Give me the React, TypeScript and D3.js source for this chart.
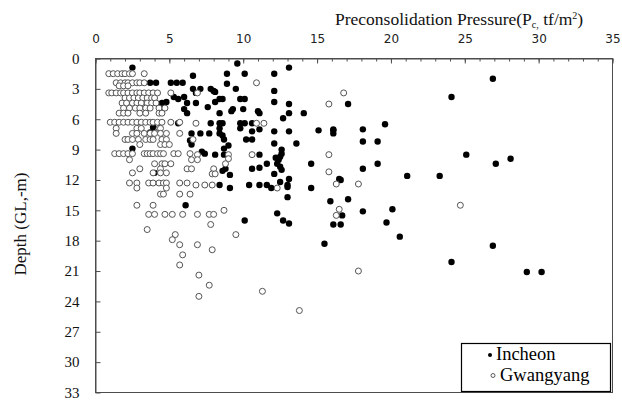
import React, { useRef, useEffect } from "react";
import * as d3 from "d3";

const xTicks = [0, 5, 10, 15, 20, 25, 30, 35];
const xMinorTicks = d3.range(0, 36, 1);
const yTicks = [0, 3, 6, 9, 12, 15, 18, 21, 24, 27, 30, 33];

// [preconsolidation pressure (tf/m2), depth (m)]
const incheon: [number, number][] = [
  [9.6, 0.5], [13.1, 0.9], [2.5, 0.9], [26.9, 2.0], [6.6, 1.7], [8.9, 1.5], [10.1, 1.5], [12.1, 1.5],
  [8.9, 2.5], [9.5, 3.0], [12.1, 3.2], [6.6, 3.0], [7.1, 3.0], [6.8, 3.4], [7.8, 3.0], [8.0, 3.2],
  [8.1, 3.3], [6.8, 4.4], [7.6, 4.8], [8.1, 4.3], [8.4, 4.0], [8.6, 4.0], [9.8, 4.0], [10.1, 4.0],
  [12.1, 4.3], [13.1, 4.5], [9.2, 5.2], [9.3, 5.0], [10.0, 5.0], [11.0, 5.2], [11.1, 5.4], [8.4, 5.4],
  [13.1, 5.4], [14.1, 5.4], [12.7, 5.9], [7.8, 6.4], [8.4, 6.4], [8.6, 6.4], [9.8, 6.4], [10.1, 6.4],
  [10.6, 6.4], [7.1, 7.4], [6.5, 7.4], [7.7, 7.4], [8.4, 6.9], [8.4, 7.4], [8.6, 7.6], [9.8, 6.9],
  [10.6, 7.2], [11.1, 7.0], [12.1, 7.2], [13.1, 7.2], [15.1, 7.1], [16.1, 7.1], [8.7, 8.0], [10.2, 8.0],
  [10.6, 8.0], [12.1, 8.4], [13.6, 8.4], [9.0, 8.6], [8.7, 8.9], [7.2, 9.2], [7.4, 9.4], [8.1, 9.5],
  [8.7, 9.5], [11.1, 9.5], [12.6, 9.0], [12.6, 9.4], [12.5, 9.7], [12.4, 10.0], [12.2, 9.8], [12.3, 10.4],
  [12.5, 10.7], [12.6, 11.0], [11.6, 10.4], [14.6, 10.4], [8.8, 10.9], [8.6, 11.1], [10.6, 10.9], [11.1, 10.8],
  [12.1, 11.4], [9.1, 11.5], [10.4, 12.5], [11.1, 12.5], [11.6, 12.5], [13.1, 11.9], [13.0, 12.5], [13.0, 12.7],
  [8.4, 12.5], [12.5, 12.2], [9.1, 12.8], [11.9, 12.8], [14.6, 12.8], [16.5, 11.9],
  [24.1, 3.8], [17.1, 4.5], [19.6, 6.5], [16.1, 7.0], [16.1, 7.4], [18.1, 7.0], [18.1, 8.2], [19.1, 8.2],
  [25.1, 9.5], [19.1, 10.4], [18.1, 10.9], [27.1, 10.4], [28.1, 9.9], [21.1, 11.6], [23.3, 11.6], [16.6, 12.0],
  [17.1, 13.9], [15.9, 14.1], [18.1, 15.1], [20.1, 14.9], [16.7, 15.5], [16.1, 16.4], [16.6, 16.4], [19.7, 16.2],
  [20.6, 17.6], [26.9, 18.5], [24.1, 20.1], [29.2, 21.1], [30.2, 21.1],
  [3.7, 2.4], [4.1, 2.4], [5.1, 2.4], [5.5, 2.4], [5.9, 2.4], [5.3, 3.8], [5.6, 4.0], [4.8, 4.3],
  [4.5, 4.4], [6.0, 3.8], [6.2, 4.4], [6.0, 5.0], [6.2, 5.4], [3.9, 6.8], [5.6, 6.4], [2.5, 8.9],
  [4.0, 11.3], [6.1, 14.5], [6.4, 8.1], [6.5, 8.5], [3.7, 7.3],
  [13.0, 13.7], [12.3, 15.3], [12.7, 16.0], [13.1, 16.3], [10.1, 16.0], [15.5, 18.3],
];

const gwangyang: [number, number][] = [
  [0.9, 1.5], [1.2, 1.5], [1.5, 1.5], [1.8, 1.5], [2.0, 1.5], [2.3, 1.5], [2.5, 1.5], [3.3, 1.5],
  [1.4, 2.4], [1.7, 2.4], [2.0, 2.4], [2.2, 2.4], [2.5, 2.4], [2.8, 2.4], [3.0, 2.4], [3.3, 2.4],
  [1.6, 2.7], [1.9, 2.7], [2.2, 2.7],
  [0.9, 3.4], [1.1, 3.4], [1.4, 3.4], [1.7, 3.4], [1.9, 3.4], [2.2, 3.4], [2.5, 3.4], [2.8, 3.4],
  [3.0, 3.4], [3.3, 3.4], [3.6, 3.4], [3.9, 3.4], [4.2, 3.4], [5.1, 3.4],
  [2.0, 3.9], [2.3, 3.9], [2.6, 3.9], [2.9, 3.9], [3.2, 3.9], [3.5, 3.9], [3.8, 3.9], [4.0, 3.9],
  [1.8, 4.4], [2.1, 4.4], [2.5, 4.4], [2.8, 4.4], [3.1, 4.4], [3.5, 4.4], [3.8, 4.4], [4.1, 4.4],
  [1.9, 4.9], [2.3, 4.9], [2.7, 4.9], [3.0, 4.9], [3.4, 4.9], [3.7, 4.9], [4.3, 4.9], [4.7, 4.9],
  [1.6, 5.4], [1.9, 5.4], [2.2, 5.4], [3.0, 5.4], [3.4, 5.4], [4.3, 5.4], [4.5, 5.4],
  [1.0, 6.3], [1.3, 6.3], [1.6, 6.3], [1.9, 6.3], [2.2, 6.3], [2.5, 6.3], [2.8, 6.3], [3.1, 6.3],
  [3.4, 6.3], [3.7, 6.3], [3.9, 6.3], [4.2, 6.3], [4.5, 6.3], [5.1, 6.3], [5.7, 6.3],
  [1.4, 6.9], [2.8, 6.9], [3.1, 6.9], [4.3, 6.9], [4.4, 6.9],
  [1.4, 7.4], [2.5, 7.4], [2.8, 7.4], [3.3, 7.4], [3.7, 7.4], [4.0, 7.4], [4.4, 7.4], [4.8, 7.4], [5.7, 7.4],
  [2.0, 8.0], [2.2, 8.0], [2.5, 8.0], [2.9, 8.0], [3.4, 8.0], [3.7, 8.0], [3.9, 8.0], [4.5, 8.0], [4.8, 8.0],
  [3.0, 8.5], [4.4, 8.5], [4.7, 8.5], [5.0, 8.5],
  [1.3, 9.4], [1.6, 9.4], [1.9, 9.4], [2.2, 9.4], [2.5, 9.4], [3.3, 9.4], [3.5, 9.4], [3.7, 9.4],
  [3.9, 9.4], [4.2, 9.4], [4.4, 9.4], [4.6, 9.4], [5.3, 9.4], [5.6, 9.4], [6.4, 9.4],
  [2.3, 10.0], [6.5, 10.0],
  [4.0, 10.4], [4.5, 10.4], [4.7, 10.4], [5.1, 10.4],
  [3.0, 10.9], [4.4, 10.9], [6.2, 10.9],
  [2.5, 11.3], [3.9, 11.3], [4.4, 11.3], [4.8, 11.3],
  [2.3, 12.3], [2.8, 12.3], [3.6, 12.3], [3.9, 12.3], [4.3, 12.3], [4.6, 12.3], [4.8, 12.3], [5.7, 12.3], [6.2, 12.3],
  [2.8, 12.8], [4.8, 12.8],
  [4.4, 13.4], [4.6, 13.4], [5.7, 13.4], [6.4, 13.4],
  [2.8, 14.5], [3.9, 14.5],
  [3.6, 15.4], [4.0, 15.4], [4.7, 15.4], [5.2, 15.4], [5.9, 15.4], [6.9, 15.4], [7.7, 15.4], [8.0, 15.4],
  [8.7, 15.0], [7.8, 16.4], [3.5, 16.9], [5.4, 17.4], [9.5, 17.4], [5.2, 17.9], [5.7, 18.4], [6.9, 18.4],
  [7.9, 18.9], [5.9, 19.4], [5.7, 20.4], [7.0, 21.4], [7.7, 22.4], [7.0, 23.5], [11.3, 23.0], [13.8, 24.9],
  [17.8, 21.0], [24.7, 14.5], [16.8, 3.4], [16.3, 12.4], [17.8, 12.4], [16.5, 14.9], [16.3, 15.5],
  [10.9, 2.4], [6.9, 3.4], [15.8, 4.5], [6.8, 6.4], [10.9, 6.4], [11.4, 6.4], [6.6, 8.0], [6.9, 9.5],
  [6.9, 10.0], [9.0, 9.5], [9.0, 9.9], [8.8, 10.4], [10.6, 9.5], [15.8, 9.5], [6.5, 10.9], [8.0, 10.9],
  [7.9, 11.4], [8.1, 11.4], [15.8, 11.2], [6.8, 12.5], [7.4, 12.5], [7.9, 12.5], [12.3, 12.8],
];

const seriesNames = ["Incheon", "Gwangyang"];

export default function App() {
  const ref = useRef<SVGSVGElement>(null);

  useEffect(() => {
    const svg = d3.select(ref.current);
    svg.selectAll("*").remove();

    const x = d3.scaleLinear().domain([0, 35]).range([95.5, 612.5]);
    const y = d3.scaleLinear().domain([0, 33]).range([58.5, 392.5]);
    const axisColor = "#4d4d4d";
    const serif = "'Liberation Serif', 'Times New Roman', serif";

    svg.append("rect")
      .attr("x", x(0)).attr("y", y(0))
      .attr("width", x(35) - x(0)).attr("height", y(33) - y(0))
      .attr("fill", "none").attr("stroke", axisColor).attr("stroke-width", 1);

    const gMinor = svg.append("g").attr("transform", `translate(0,${y(0)})`);
    gMinor.call(d3.axisTop(x).tickValues(xMinorTicks).tickSizeInner(-3).tickSizeOuter(0).tickFormat(() => ""));
    gMinor.select(".domain").remove();
    gMinor.selectAll("line").attr("stroke", axisColor);

    const gx = svg.append("g").attr("transform", `translate(0,${y(0)})`);
    gx.call(d3.axisTop(x).tickValues(xTicks).tickSizeInner(-5).tickSizeOuter(0).tickPadding(16));
    gx.select(".domain").attr("stroke", axisColor);
    gx.selectAll("line").attr("stroke", axisColor);
    gx.selectAll("text")
      .attr("font-family", "'DejaVu Sans', sans-serif")
      .attr("font-size", 12)
      .attr("fill", "#222");

    const gy = svg.append("g").attr("transform", `translate(${x(0)},0)`);
    gy.call(d3.axisLeft(y).tickValues(yTicks).tickSizeInner(-5).tickSizeOuter(0).tickPadding(16));
    gy.select(".domain").attr("stroke", axisColor);
    gy.selectAll("line").attr("stroke", axisColor);
    gy.selectAll("text")
      .attr("font-family", serif)
      .attr("font-size", 15)
      .attr("fill", "#111");

    const t = svg.append("text")
      .attr("x", 335).attr("y", 25)
      .attr("font-family", serif)
      .attr("font-size", 17.5).attr("fill", "#111");
    t.append("tspan").text("Preconsolidation Pressure(P");
    t.append("tspan").attr("font-size", 10).attr("dy", 3).text("c,");
    t.append("tspan").attr("dy", -3).text(" tf/m");
    t.append("tspan").attr("font-size", 10).attr("dy", -6).text("2");
    t.append("tspan").attr("dy", 6).text(")");

    svg.append("text")
      .attr("transform", `translate(26,${224}) rotate(-90)`)
      .attr("text-anchor", "middle")
      .attr("font-family", serif)
      .attr("font-size", 17).attr("fill", "#111")
      .text("Depth (GL,-m)");

    svg.append("g").selectAll("circle").data(incheon).join("circle")
      .attr("cx", d => x(d[0])).attr("cy", d => y(d[1])).attr("r", 3.2)
      .attr("fill", "#000");
    svg.append("g").selectAll("circle").data(gwangyang).join("circle")
      .attr("cx", d => x(d[0])).attr("cy", d => y(d[1])).attr("r", 3)
      .attr("fill", "#fff").attr("stroke", "#555").attr("stroke-width", 1);

    const lg = svg.append("g");
    lg.append("rect").attr("x", 461.5).attr("y", 343.5).attr("width", 149).attr("height", 48)
      .attr("fill", "#fff").attr("stroke", "#000").attr("stroke-width", 1.2);
    lg.append("circle").attr("cx", 490).attr("cy", 355).attr("r", 2).attr("fill", "#000");
    lg.append("circle").attr("cx", 493).attr("cy", 375.5).attr("r", 2).attr("fill", "#fff").attr("stroke", "#333").attr("stroke-width", 0.8);
    lg.append("text").attr("x", 496).attr("y", 360)
      .attr("font-family", serif).attr("font-size", 18.5).attr("fill", "#000")
      .text(seriesNames[0]);
    lg.append("text").attr("x", 500).attr("y", 381)
      .attr("font-family", serif).attr("font-size", 18.5).attr("fill", "#000")
      .text(seriesNames[1]);
  }, []);

  return (
    <svg
      ref={ref}
      width={622}
      height={403}
      style={{ position: "absolute", left: 0, top: 0, background: "#fff" }}
    />
  );
}
